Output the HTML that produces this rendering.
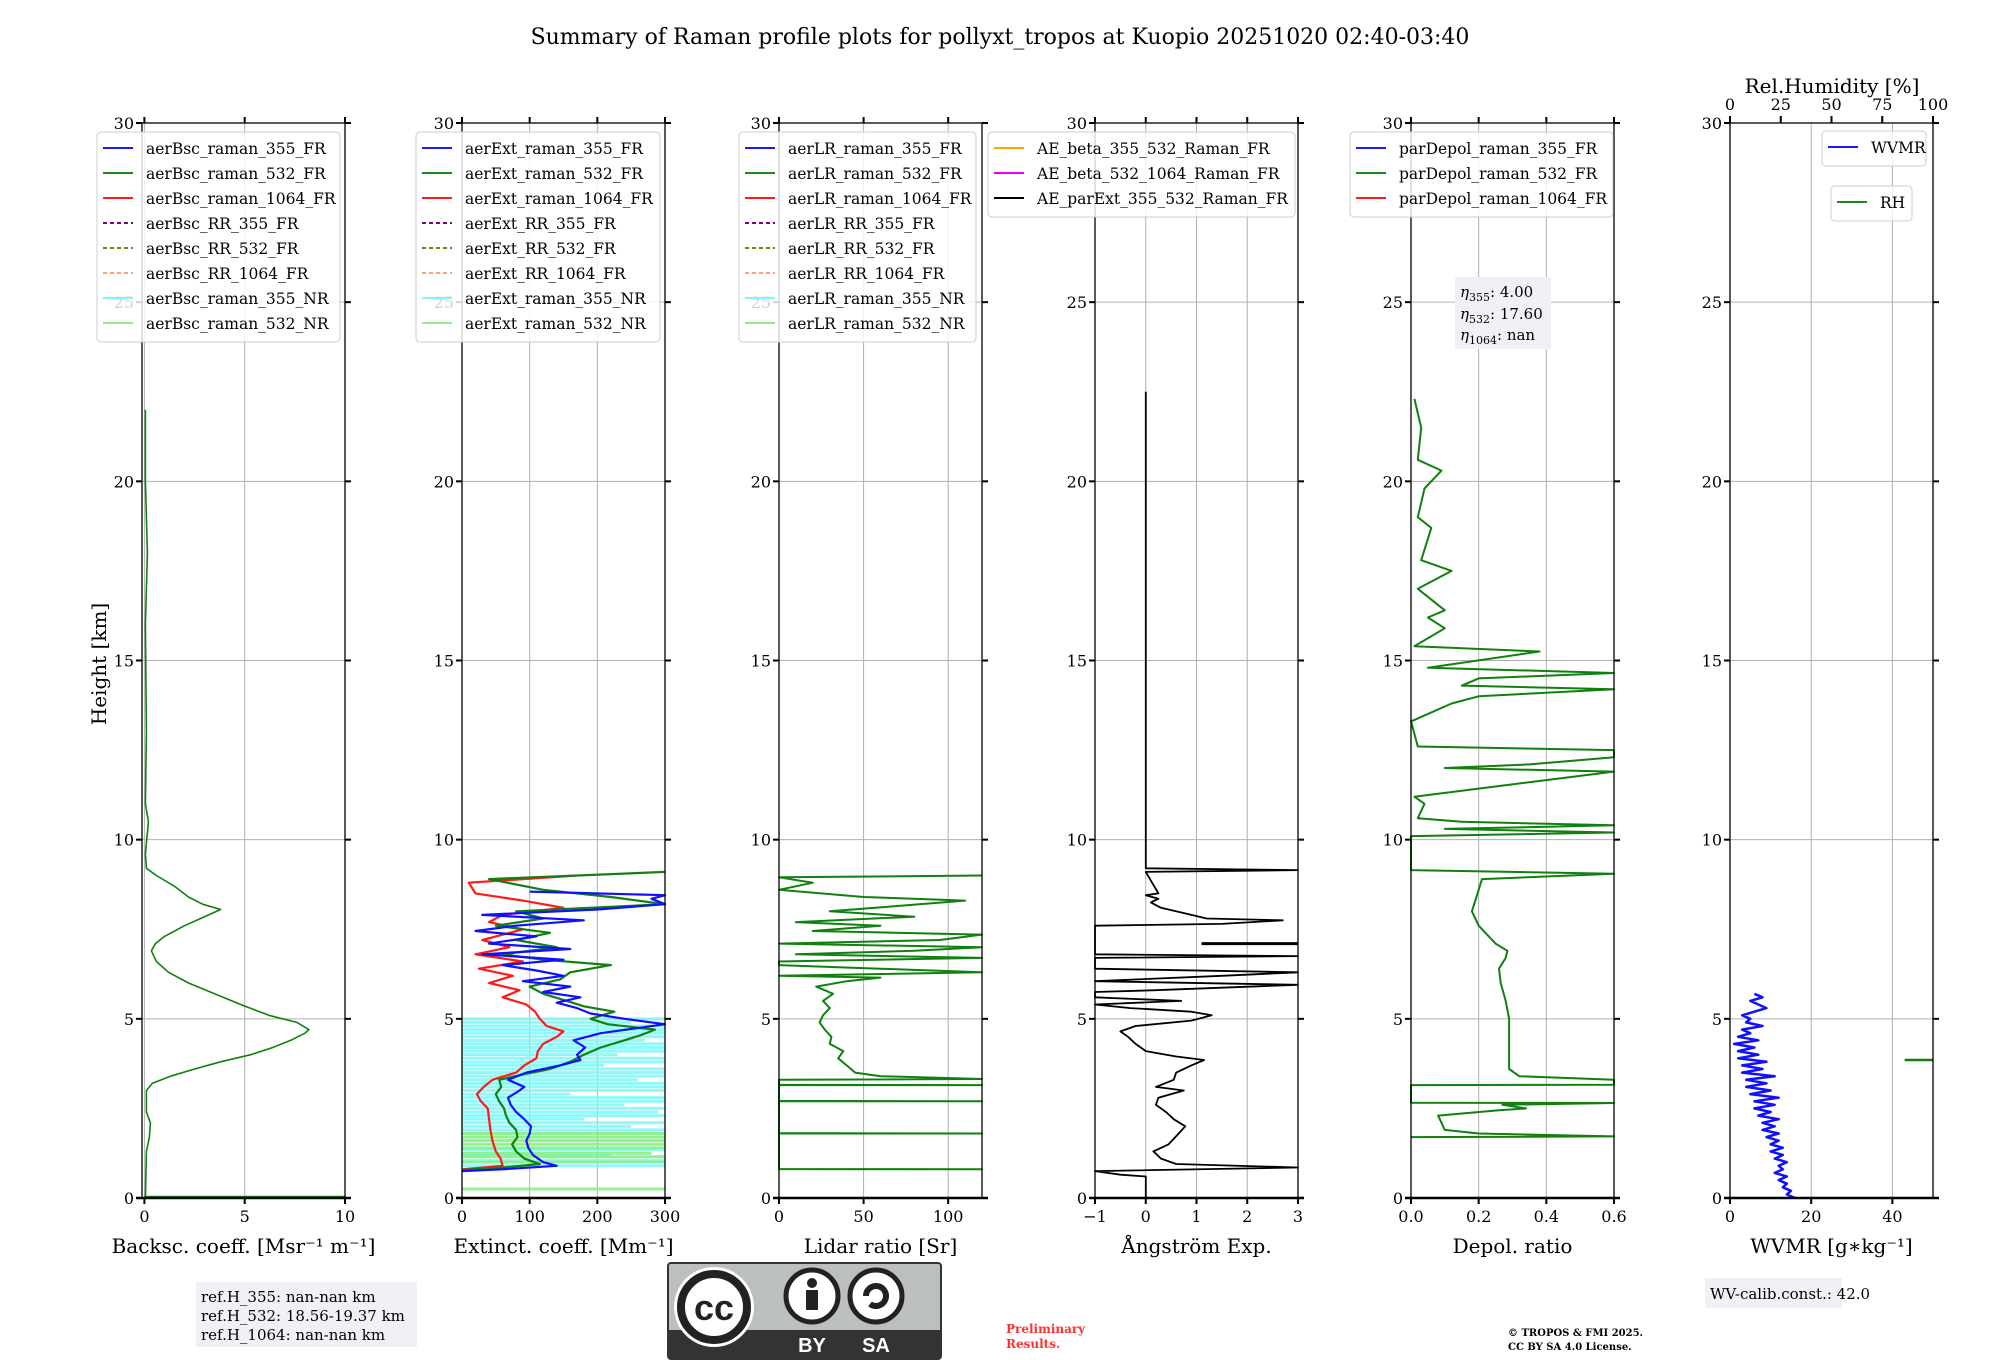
<!DOCTYPE html>
<html><head><meta charset="utf-8">
<style>
html,body{margin:0;padding:0;background:#fff;}
svg{display:block;font-family:"DejaVu Serif","Liberation Serif",serif;}
</style></head>
<body>
<svg id="fig" width="2000" height="1360" viewBox="0 0 2000 1360" xmlns="http://www.w3.org/2000/svg">
<rect width="2000" height="1360" fill="#fff"/>
<text x="1000" y="44" font-size="22" text-anchor="middle">Summary of Raman profile plots for pollyxt_tropos at Kuopio 20251020 02:40-03:40</text>
<text transform="translate(106,664) rotate(-90)" font-size="20" text-anchor="middle">Height [km]</text>
<g id="plots"></g>
<g>
<rect x="196" y="1282" width="221" height="65" fill="#f0f1f5"/>
<text x="201" y="1302" font-size="15">ref.H_355: nan-nan km</text>
<text x="201" y="1321" font-size="15">ref.H_532: 18.56-19.37 km</text>
<text x="201" y="1340" font-size="15">ref.H_1064: nan-nan km</text>
</g>
<g>
<rect x="1455" y="277" width="96" height="72" fill="#f0f1f5"/>
<text x="1460" y="297" font-size="15"><tspan font-style="italic">η</tspan><tspan font-size="11" dy="4">355</tspan><tspan dy="-4">: 4.00</tspan></text>
<text x="1460" y="319" font-size="15"><tspan font-style="italic">η</tspan><tspan font-size="11" dy="4">532</tspan><tspan dy="-4">: 17.60</tspan></text>
<text x="1460" y="340" font-size="15"><tspan font-style="italic">η</tspan><tspan font-size="11" dy="4">1064</tspan><tspan dy="-4">: nan</tspan></text>
</g>
<g>
<rect x="1705" y="1278" width="137" height="30" fill="#f0f1f5"/>
<text x="1710" y="1299" font-size="15">WV-calib.const.: 42.0</text>
</g>
<g>
<rect x="668" y="1263" width="273" height="96" rx="3" fill="#bcc0bc" stroke="#333" stroke-width="2"/>
<rect x="669" y="1330" width="271" height="28" fill="#333"/>
<circle cx="714" cy="1307" r="40" fill="#fff"/>
<circle cx="714" cy="1307" r="33" fill="#fff" stroke="#222" stroke-width="8"/>
<text x="714" y="1320" font-family="Liberation Sans,sans-serif" font-weight="bold" font-size="36" text-anchor="middle" fill="#222">cc</text>
<circle cx="812" cy="1296" r="26" fill="#fff" stroke="#222" stroke-width="5"/>
<circle cx="812" cy="1283" r="5" fill="#222"/>
<rect x="806" y="1290" width="12" height="20" fill="#222"/>
<circle cx="876" cy="1296" r="26" fill="#fff" stroke="#222" stroke-width="5"/>
<path d="M866 1296 a10 10 0 1 1 4 8" fill="none" stroke="#222" stroke-width="6"/>
<text x="812" y="1352" font-family="Liberation Sans,sans-serif" font-weight="bold" font-size="20" text-anchor="middle" fill="#fff">BY</text>
<text x="876" y="1352" font-family="Liberation Sans,sans-serif" font-weight="bold" font-size="20" text-anchor="middle" fill="#fff">SA</text>
</g>
<text x="1006" y="1333" font-size="12" font-weight="bold" fill="#ff3030">Preliminary</text>
<text x="1006" y="1348" font-size="12" font-weight="bold" fill="#ff3030">Results.</text>
<text x="1508" y="1336" font-size="10" font-weight="bold">© TROPOS &amp; FMI 2025.</text>
<text x="1508" y="1350" font-size="10" font-weight="bold">CC BY SA 4.0 License.</text>
</svg>
<script>
const yTicks=[0,5,10,15,20,25,30];
const bsc532=[[0,0.05],[1.3,0.1],[1.7,0.25],[2.1,0.3],[2.4,0.1],[3.0,0.1],[3.2,0.4],[3.4,1.3],[3.6,2.5],[3.8,3.8],[4.0,5.3],[4.2,6.4],[4.4,7.3],[4.6,8.0],[4.7,8.2],[4.9,7.6],[5.1,6.2],[5.4,4.8],[5.7,3.5],[6.0,2.2],[6.3,1.2],[6.6,0.6],[6.9,0.35],[7.1,0.55],[7.3,1.0],[7.6,2.0],[7.8,2.8],[8.05,3.8],[8.2,2.9],[8.4,2.2],[8.7,1.5],[9.0,0.6],[9.2,0.1],[9.6,0.05],[10.5,0.2],[11,0.05],[13,0.1],[16,0.05],[18,0.15],[20,0.05],[22,0.05]];
const bscZero=[[0.02,0],[0.02,10]];
const extBlue=[[0.75,0],[0.8,60],[0.9,140],[1.0,120],[1.2,105],[1.4,98],[1.6,95],[1.8,100],[2.0,102],[2.2,92],[2.4,80],[2.6,72],[2.8,68],[3.0,85],[3.1,92],[3.3,68],[3.5,95],[3.7,145],[3.85,175],[4.0,170],[4.2,182],[4.4,165],[4.6,205],[4.75,262],[4.85,300],[5.0,240],[5.15,190],[5.3,170],[5.45,140],[5.6,175],[5.75,120],[5.9,160],[6.05,90],[6.2,150],[6.35,110],[6.5,60],[6.65,150],[6.8,30],[6.95,160],[7.1,40],[7.3,110],[7.45,20],[7.6,80],[7.75,180],[7.9,30],[8.05,200],[8.2,300],[8.35,280],[8.45,300],[8.55,100]];
const extGreen=[[0.78,0],[0.85,60],[0.95,115],[1.1,92],[1.3,80],[1.5,74],[1.7,82],[1.9,80],[2.1,70],[2.3,65],[2.5,62],[2.7,55],[2.9,50],[3.1,58],[3.3,55],[3.45,90],[3.6,130],[3.8,160],[4.0,180],[4.2,205],[4.4,240],[4.55,265],[4.7,285],[4.85,215],[5.0,190],[5.2,225],[5.35,180],[5.5,155],[5.7,120],[5.9,100],[6.1,145],[6.3,160],[6.5,220],[6.65,120],[6.8,60],[7.0,140],[7.2,80],[7.4,130],[7.6,50],[7.8,120],[8.0,80],[8.2,300],[8.4,220],[8.6,120],[8.9,40],[9.1,300]];
const extRed=[[0.8,0],[0.9,60],[1.1,57],[1.3,50],[1.6,45],[1.9,42],[2.2,40],[2.5,38],[2.7,28],[2.9,22],[3.1,32],[3.3,45],[3.5,80],[3.7,92],[3.9,110],[4.1,112],[4.3,120],[4.5,140],[4.65,150],[4.8,125],[5.0,115],[5.2,108],[5.4,95],[5.6,60],[5.8,85],[6.0,40],[6.2,75],[6.4,25],[6.6,90],[6.8,20],[7.0,70],[7.2,30],[7.5,90],[7.7,40],[7.9,60],[8.1,150],[8.3,90],[8.5,20],[8.8,10],[9.0,170]];
const extCyanH=[0.9,1.05,1.2,1.35,1.9,2.0,2.1,2.2,2.3,2.4,2.5,2.6,2.7,2.8,2.9,3.0,3.1,3.2,3.3,3.4,3.5,3.6,3.7,3.8,3.9,4.0,4.1,4.2,4.3,4.4,4.5,4.6,4.7,4.8,4.9,5.0];
const extCyanV=[300,300,220,300,300,250,300,180,300,290,300,240,300,300,160,300,300,300,260,300,300,300,210,300,300,230,300,300,300,270,300,300,300,300,250,300];
const extLgH=[0.25,1.0,1.15,1.25,1.4,1.5,1.6,1.7,1.8];
const extLgV=[300,300,300,280,300,300,300,300,300];
const lr532=[[0.8,0],[0.8,120],[0.81,0],[1.8,0],[1.8,120],[1.81,0],[2.7,0],[2.7,120],[2.71,0],[3.15,0],[3.15,120],[3.16,0],[3.3,0],[3.32,120],[3.4,60],[3.5,45],[3.7,40],[3.9,35],[4.1,38],[4.3,30],[4.5,31],[4.7,27],[4.9,24],[5.1,26],[5.3,30],[5.5,26],[5.7,32],[5.9,22],[6.05,40],[6.15,60],[6.2,0],[6.3,120],[6.4,60],[6.5,0],[6.6,0],[6.7,120],[6.8,10],[6.9,80],[7.0,120],[7.1,0],[7.2,95],[7.35,120],[7.45,20],[7.6,60],[7.7,10],[7.85,80],[8.0,30],[8.15,70],[8.3,110],[8.4,50],[8.6,0],[8.8,20],[8.95,0],[9.0,120]];
const ae=[[0,0],[0.6,0],[0.65,-0.5],[0.75,-1],[0.85,3],[0.95,0.6],[1.1,0.3],[1.3,0.15],[1.5,0.45],[1.8,0.65],[2.0,0.78],[2.2,0.55],[2.4,0.4],[2.6,0.2],[2.8,0.25],[3.0,0.75],[3.1,0.2],[3.3,0.55],[3.5,0.6],[3.7,0.9],[3.85,1.15],[3.95,0.6],[4.1,0.0],[4.3,-0.2],[4.5,-0.35],[4.65,-0.5],[4.8,-0.2],[4.95,0.9],[5.1,1.3],[5.2,0.9],[5.3,-0.3],[5.4,-1],[5.5,0.7],[5.6,-1],[5.75,-1],[5.8,0.2],[5.95,3],[6.05,-1],[6.2,1.5],[6.3,3],[6.4,-1],[6.7,-1],[6.75,3],[6.8,-1],[7.6,-1],[7.65,1.5],[7.75,2.7],[7.8,1.2],[7.9,0.9],[8.1,0.3],[8.25,0.1],[8.35,0.25],[8.45,0.0],[8.5,0.25],[9.1,0.0],[9.15,3],[9.2,0],[22.5,0]];
const ae2=[[7.1,1.1],[7.1,3]];
const dep532=[[1.7,0],[1.72,0.6],[1.8,0.2],[1.9,0.1],[2.1,0.09],[2.3,0.08],[2.45,0.26],[2.5,0.34],[2.6,0.27],[2.65,0.6],[2.66,0],[3.15,0],[3.16,0.6],[3.3,0.6],[3.4,0.32],[3.6,0.29],[4.0,0.29],[4.5,0.29],[5.0,0.29],[5.5,0.28],[6.0,0.265],[6.4,0.26],[6.7,0.28],[6.9,0.285],[7.1,0.25],[7.3,0.23],[7.6,0.2],[8.0,0.18],[8.3,0.19],[8.6,0.2],[8.9,0.21],[9.05,0.6],[9.15,0.0],[10.1,0],[10.2,0.6],[10.3,0.1],[10.4,0.6],[10.5,0.15],[10.6,0.02],[11.0,0.04],[11.2,0.01],[11.9,0.6],[12.0,0.1],[12.1,0.35],[12.3,0.6],[12.5,0.6],[12.6,0.02],[13.3,0],[13.8,0.12],[14.0,0.2],[14.2,0.6],[14.3,0.15],[14.5,0.2],[14.65,0.6],[14.8,0.05],[15.25,0.38],[15.4,0.01],[15.9,0.1],[16.2,0.05],[16.4,0.1],[17.0,0.02],[17.5,0.12],[17.8,0.03],[18.7,0.06],[19.0,0.02],[19.8,0.04],[20.3,0.09],[20.6,0.02],[21.5,0.03],[22.3,0.01]];
const wvmr=[[0,16],[0.1,14],[0.2,15],[0.3,13],[0.4,14],[0.5,12],[0.6,14],[0.7,11],[0.8,13],[0.9,12],[1.0,14],[1.1,11],[1.2,13],[1.3,10],[1.4,13],[1.5,10],[1.6,12],[1.7,9],[1.8,12],[1.9,8],[2.0,11],[2.1,8],[2.2,12],[2.3,7],[2.4,10],[2.5,6],[2.6,11],[2.7,6],[2.8,12],[2.9,5],[3.0,10],[3.1,4],[3.2,9],[3.3,4],[3.4,11],[3.5,3],[3.6,8],[3.7,3],[3.8,9],[3.9,2],[4.0,7],[4.1,2],[4.2,6],[4.3,1],[4.4,7],[4.5,2],[4.6,5],[4.7,3],[4.8,8],[4.9,4],[5.0,5],[5.1,3],[5.3,9],[5.5,5],[5.6,8],[5.7,6]];
const rh=[[3.85,86],[3.85,100]];
const TOP=123,BOT=1198,W=203,YMAX=30;
const panels=[
 {id:'backscatter',x:142,xmin:-0.12,xmax:10,ticks:[0,5,10],tl:['0','5','10'],label:'Backsc. coeff. [Msr⁻¹ m⁻¹]'},
 {id:'extinction',x:462,xmin:0,xmax:300,ticks:[0,100,200,300],tl:['0','100','200','300'],label:'Extinct. coeff. [Mm⁻¹]'},
 {id:'lidar-ratio',x:779,xmin:0,xmax:120,ticks:[0,50,100],tl:['0','50','100'],label:'Lidar ratio [Sr]'},
 {id:'angstrom',x:1095,xmin:-1,xmax:3,ticks:[-1,0,1,2,3],tl:['−1','0','1','2','3'],label:'Ångström Exp.'},
 {id:'depol',x:1411,xmin:0,xmax:0.6,ticks:[0,0.2,0.4,0.6],tl:['0.0','0.2','0.4','0.6'],label:'Depol. ratio'},
 {id:'wvmr',x:1730,xmin:0,xmax:50,ticks:[0,20,40],tl:['0','20','40'],label:'WVMR [g∗kg⁻¹]'}
];
const NS='http://www.w3.org/2000/svg';
const root=document.getElementById('plots');
function mk(tag,attrs,parent){const e=document.createElementNS(NS,tag);for(const k in attrs)e.setAttribute(k,attrs[k]);(parent||root).appendChild(e);return e;}
function yS(h){return BOT-(h/YMAX)*(BOT-TOP);}
function xS(p,v){return p.x+(v-p.xmin)/(p.xmax-p.xmin)*W;}
function line(p,g,data,color,w,name){
  const pts=data.map(d=>xS(p,d[1]).toFixed(1)+','+yS(d[0]).toFixed(1)).join(' ');
  const e=mk('polyline',{points:pts,fill:'none',stroke:color,'stroke-width':w,'stroke-linejoin':'round'},g);
  
  
}
function hbars(p,g,hs,vs,color,name){
  hs.forEach((h,i)=>{const e=mk('line',{x1:xS(p,0),x2:xS(p,vs[i]),y1:yS(h),y2:yS(h),stroke:color,'stroke-width':3,opacity:0.85},g);
  
  });
}
const gs={};
panels.forEach(p=>{
  const g=mk('g',{});
  
  
  gs[p.id]=g;
  p.ticks.forEach(t=>mk('line',{x1:xS(p,t),x2:xS(p,t),y1:TOP,y2:BOT,stroke:'#b0b0b0','stroke-width':1},g));
  yTicks.forEach(t=>mk('line',{x1:p.x,x2:p.x+W,y1:yS(t),y2:yS(t),stroke:'#b0b0b0','stroke-width':1},g));
  yTicks.forEach(t=>{
    mk('line',{x1:p.x-6,x2:p.x,y1:yS(t),y2:yS(t),stroke:'#000','stroke-width':2},g);
    mk('line',{x1:p.x+W,x2:p.x+W+6,y1:yS(t),y2:yS(t),stroke:'#000','stroke-width':2},g);
    const tx=mk('text',{x:p.x-8,y:yS(t)+6,'font-size':16,'text-anchor':'end'},g);tx.textContent=t;
    
    
  });
  p.ticks.forEach((t,i)=>{
    mk('line',{x1:xS(p,t),x2:xS(p,t),y1:BOT,y2:BOT+6,stroke:'#000','stroke-width':2},g);
    if(p.id!=='wvmr')mk('line',{x1:xS(p,t),x2:xS(p,t),y1:TOP-6,y2:TOP,stroke:'#000','stroke-width':2},g);
    const tx=mk('text',{x:xS(p,t),y:BOT+24,'font-size':16,'text-anchor':'middle'},g);tx.textContent=p.tl[i];
    
    
  });
  mk('line',{x1:p.x+W,x2:p.x+W+6,y1:BOT,y2:BOT,stroke:'#000','stroke-width':2},g);
  const lb=mk('text',{x:p.x+W/2,y:1253,'font-size':20,'text-anchor':'middle'},g);lb.textContent=p.label;
  
  
});
const P={};panels.forEach(p=>P[p.id]=p);
hbars(P.extinction,gs.extinction,extCyanH,extCyanV,'#7ff7f7','ext-355-nr-bar');
hbars(P.extinction,gs.extinction,extLgH,extLgV,'#7ff07f','ext-532-nr-bar');
line(P.backscatter,gs.backscatter,bscZero,'#1a8a1a',3,'bsc-532-nr-line');
line(P.backscatter,gs.backscatter,bsc532,'#108010',1.6,'bsc-532-fr-line');
line(P.extinction,gs.extinction,extRed,'#ff1a1a',2.2,'ext-1064-line');
line(P.extinction,gs.extinction,extGreen,'#108010',2.2,'ext-532-line');
line(P.extinction,gs.extinction,extBlue,'#1010ff',2.2,'ext-355-line');
line(P['lidar-ratio'],gs['lidar-ratio'],lr532,'#108010',2,'lr-532-line');
line(P.angstrom,gs.angstrom,ae,'#000',1.8,'ae-ext-line');
line(P.angstrom,gs.angstrom,ae2,'#000',3,'ae-ext-segment');
line(P.depol,gs.depol,dep532,'#108010',2,'depol-532-line');
line(P.wvmr,gs.wvmr,wvmr,'#1010ff',2.5,'wvmr-line');
const rhP={x:1730,xmin:0,xmax:100};
line(rhP,gs.wvmr,rh,'#108010',2.5,'rh-line');
panels.forEach(p=>{
  mk('rect',{x:p.x,y:TOP,width:W,height:BOT-TOP,fill:'none',stroke:'#000','stroke-width':1.3},gs[p.id]);
  mk('line',{x1:p.x-6,x2:p.x+W+6,y1:BOT,y2:BOT,stroke:'#000','stroke-width':2.5},gs[p.id]);
});
const rhT=[0,25,50,75,100];
rhT.forEach(t=>{const x=1730+t/100*W;
  mk('line',{x1:x,x2:x,y1:TOP-7,y2:TOP,stroke:'#000','stroke-width':2},gs.wvmr);
  const tx=mk('text',{x:x,y:110,'font-size':16,'text-anchor':'middle'},gs.wvmr);tx.textContent=t;
  
  });
const rt=mk('text',{x:1832,y:93,'font-size':20,'text-anchor':'middle'},gs.wvmr);rt.textContent='Rel.Humidity [%]';


function legend(x,y,w,items,name){
  const g=mk('g',{});
  
  
  mk('rect',{x:x,y:y,width:w,height:items.length*25+10,rx:4,fill:'#fff','fill-opacity':0.82,stroke:'#ccc'},g);
  items.forEach((it,i)=>{const yy=y+16+i*25;
    mk('line',{x1:x+6,x2:x+36,y1:yy,y2:yy,stroke:it[1],'stroke-width':2,'stroke-dasharray':it[2]?'4,3':'none'},g);
    const t=mk('text',{x:x+49,y:yy+6,'font-size':15.5},g);t.textContent=it[0];
    
    });
}
const cols=[['#1a1aff'],['#1a8a1a'],['#ff1a1a'],['#800080',1],['#808000',1],['#ffa07a',1],['#7ff7f7'],['#90ee90']];
function L(pre){const n=[pre+'raman_355_FR',pre+'raman_532_FR',pre+'raman_1064_FR',pre+'RR_355_FR',pre+'RR_532_FR',pre+'RR_1064_FR',pre+'raman_355_NR',pre+'raman_532_NR'];return n.map((s,i)=>[s,cols[i][0],cols[i][1]]);}
legend(97,132,243,L('aerBsc_'),'backscatter-legend');
legend(416,132,244,L('aerExt_'),'extinction-legend');
legend(739,132,237,L('aerLR_'),'lidar-ratio-legend');
legend(988,132,307,[['AE_beta_355_532_Raman_FR','#ffa500'],['AE_beta_532_1064_Raman_FR','#ee00ee'],['AE_parExt_355_532_Raman_FR','#000']],'angstrom-legend');
legend(1350,132,263,[['parDepol_raman_355_FR','#1a1aff'],['parDepol_raman_532_FR','#1a8a1a'],['parDepol_raman_1064_FR','#ff1a1a']],'depol-legend');
legend(1822,131,104,[['WVMR','#1a1aff']],'wvmr-legend');
legend(1831,186,81,[['RH','#1a8a1a']],'rh-legend');
</script>
</body></html>
